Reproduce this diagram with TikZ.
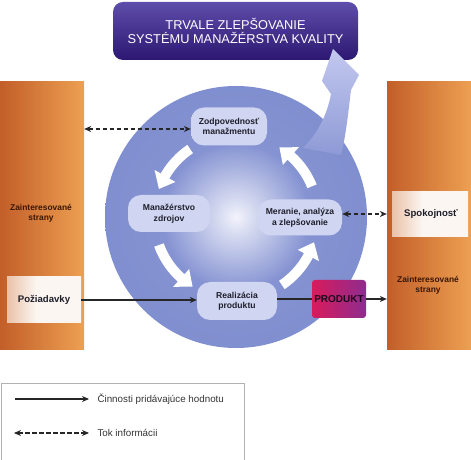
\documentclass[tikz,border=0pt]{standalone}
\usepackage{fontspec}
\setmainfont{Liberation Sans}
\usetikzlibrary{arrows.meta}
\definecolor{circmid}{HTML}{8593D2}
\definecolor{circedge}{HTML}{7584C8}
\definecolor{circcenter}{HTML}{F2F3FB}
\definecolor{nodec}{HTML}{D0D5F2}
\definecolor{nodee}{HTML}{A5AFE1}
\definecolor{arrT}{HTML}{C2C8EE}
\definecolor{arrB}{HTML}{8E9AD6}
\definecolor{barL}{HTML}{C25E29}
\definecolor{barR}{HTML}{EDA052}
\definecolor{boxl}{HTML}{D6804A}
\definecolor{boxw}{HTML}{FBF6F2}
\definecolor{banT}{HTML}{5E4DAA}
\definecolor{banB}{HTML}{2C1872}
\definecolor{prodL}{HTML}{D81B5C}
\definecolor{prodR}{HTML}{8E2C8E}
\definecolor{darktxt}{HTML}{1E1E2A}
\definecolor{browntxt}{HTML}{3A1606}
\pgfdeclareradialshading{circglow}{\pgfpoint{0bp}{0bp}}{color(0bp)=(circcenter); color(4bp)=(circcenter!70!circmid); color(14bp)=(circmid); color(50bp)=(circedge); color(100bp)=(circedge)}
\pgfdeclareradialshading{nodeglow}{\pgfpoint{0bp}{0bp}}{color(0bp)=(nodec); color(30bp)=(nodec); color(50bp)=(nodee); color(100bp)=(nodee)}
\pgfdeclarehorizontalshading{boxfade}{100bp}{color(0bp)=(boxl); color(45bp)=(boxw); color(100bp)=(boxw)}
\tikzset{
  bar/.style={minimum width=84, minimum height=268, inner sep=0, left color=barL, right color=barR},
  inbox/.style={rectangle, rounded corners=13, shading=nodeglow, inner sep=0, align=center, text=darktxt, font=\bfseries\fontsize{8.6}{10.5}\selectfont},
  fadebox/.style={shading=boxfade, inner sep=0, text=darktxt, font=\bfseries\fontsize{9.6}{11}\selectfont},
  barlabel/.style={align=center, text=browntxt, font=\bfseries\fontsize{8.4}{10}\selectfont},
  valarrow/.style={draw=black!85, line width=1.1pt, -{Stealth[length=7pt,width=6pt]}},
  linkline/.style={draw=black!85, line width=1.1pt},
  infoarrow/.style={draw=black!85, line width=1.1pt, dash pattern=on 4.5pt off 2.5pt, {Stealth[length=7pt,width=6pt]}-{Stealth[length=7pt,width=6pt]}},
  legtext/.style={anchor=west, text=black!80, font=\fontsize{9.8}{11}\selectfont}
}
\newcommand\cyarr[2]{%
  \pgfmathsetmacro\cyb{#2-10}%
  \fill[white, shift={(236,243)}] (#1:87) arc[start angle=#1, end angle=\cyb, radius=87]
    -- (\cyb:94) -- (#2:82) -- (\cyb:70) -- (\cyb:77)
    arc[start angle=\cyb, end angle=#1, radius=77] -- cycle;}
\begin{document}
\begin{tikzpicture}[x=1pt,y=1pt]
\useasboundingbox (0,0) rectangle (471,460);
% side bars
\node[bar] (lbar) at (42,244) {};
\node[bar] (rbar) at (429,244) {};
\node[barlabel] (llab) at (41,247) {Zainteresované\\strany};
\node[barlabel] (rlab) at (428,175) {Zainteresované\\strany};
\node[fadebox, minimum width=74, minimum height=46] (poz) at (44,160) {Požiadavky};
\node[fadebox, minimum width=76, minimum height=45] (spok) at (430,245.5) {\hspace*{2pt}Spokojnosť};
% big circle
\node[circle, minimum size=262, inner sep=0, shading=circglow] (circ) at (236,243) {};
% banner
\node[rounded corners=10, minimum width=245, minimum height=58, top color=banT, bottom color=banB,
  text=white, align=center, font=\fontsize{12.8}{14.5}\selectfont] (banner) at (235.5,429)
  {TRVALE ZLEPŠOVANIE\\SYSTÉMU MANAŽÉRSTVA KVALITY};
% big curved arrow
\shade[top color=arrT, bottom color=arrB, draw=none]
  (303,312) .. controls (318,327) and (327,345) .. (331,366)
  -- (322,379) -- (333,411) -- (359,385) -- (351,370)
  .. controls (348,345) and (346,325) .. (341,305) -- cycle;
% inner boxes
\node[inbox, minimum width=76, minimum height=38] (zod) at (229,333.5) {Zodpovednosť\\manažmentu};
\node[inbox, minimum width=82, minimum height=37] (res) at (169,246.5) {Manažérstvo\\zdrojov};
\node[inbox, minimum width=84, minimum height=36] (mer) at (300,242.5) {Meranie, analýza\\a zlepšovanie};
\node[inbox, minimum width=80, minimum height=38] (real) at (237,159) {Realizácia\\produktu};
% cycle arrows
\cyarr{124}{160}
\cyarr{200}{238}
\cyarr{304}{342}
\cyarr{22}{58}
% product
\node[rounded corners=3, minimum width=54, minimum height=38, left color=prodL, right color=prodR,
  text=black!80!prodR, font=\bfseries\fontsize{10}{12}\selectfont, inner sep=0] (prod) at (339,161) {PRODUKT};
% connectors
\draw[infoarrow] (lbar.east |- 0,331) -- (zod.west |- 0,331);
\draw[infoarrow] (mer.east |- 0,246) -- (rbar.west |- 0,246);
\draw[valarrow] (poz.east) -- (real.west |- poz.east);
\draw[linkline] (real.east |- prod.west) -- (prod.west);
\draw[valarrow] (prod.east) -- (rbar.west |- prod.east);
% legend
\draw[gray!60, line width=0.6pt] (1,0) -- (1,77) -- (244,77) -- (244,0);
\coordinate (l1a) at (15,61); \coordinate (l1b) at (89,61);
\coordinate (l2a) at (14,27); \coordinate (l2b) at (89,27);
\draw[valarrow] (l1a) -- (l1b);
\draw[infoarrow] (l2a) -- (l2b);
\node[legtext] (l1t) at (94,61) {Činnosti pridávajúce hodnotu};
\node[legtext] (l2t) at (94,27) {Tok informácii};
\end{tikzpicture}
\end{document}
